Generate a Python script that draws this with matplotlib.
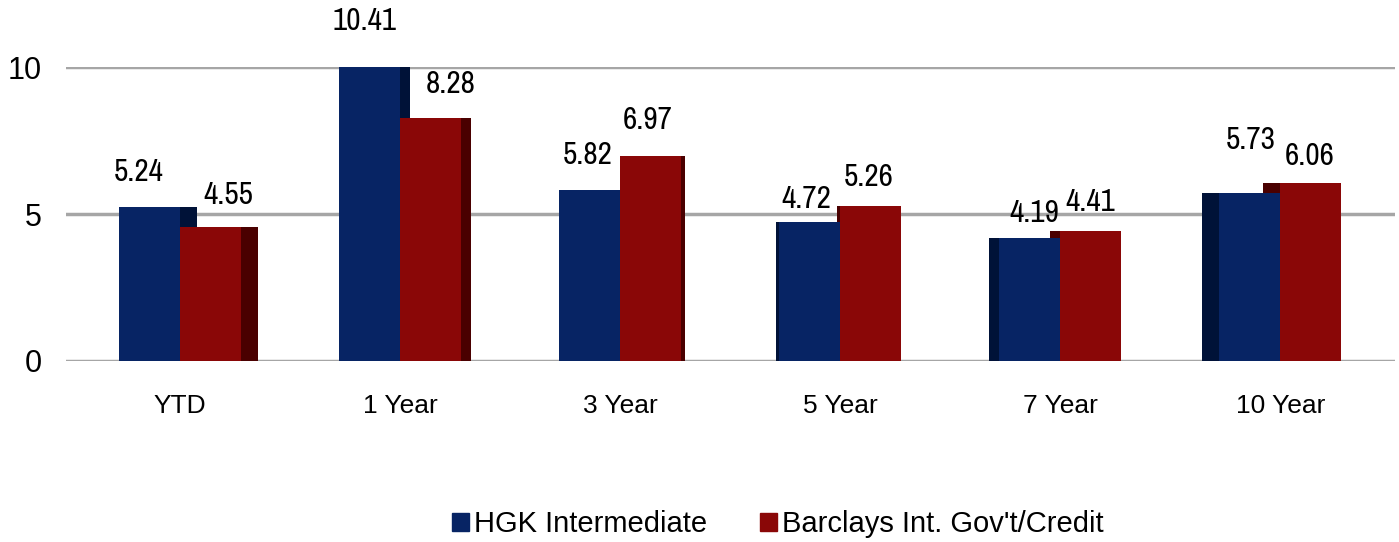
import matplotlib.pyplot as plt
import matplotlib.patches as mpatches
import numpy as np

categories = ['YTD', '1 Year', '3 Year', '5 Year', '7 Year', '10 Year']
hgk = [5.24, 10.41, 5.82, 4.72, 4.19, 5.73]
barclays = [4.55, 8.28, 6.97, 5.26, 4.41, 6.06]
series_names = ['HGK Intermediate', "Barclays Int. Gov't/Credit"]

# label nudges in pixels (dx, dy above bar top), hand tuned to the picture
hgk_off = [(-11, 35), (-5, 34), (-2, 35), (-4, 23), (4, 25), (1, 53)]
bar_off = [(18, 32), (20, 34), (-3, 36), (-2, 29), (-1, 29), (-1, 27)]

blue = '#072464'
blue_side = '#001238'
red = '#8a0707'
red_side = '#4a0000'
narrow = ['Archivo Narrow', 'DejaVu Sans']

plt.rcParams['font.family'] = ['Liberation Sans', 'DejaVu Sans']

fig = plt.figure(figsize=(13.99, 5.42), dpi=100)
ax = fig.add_axes([0.047, 0.334, 0.95, 0.542])

x = np.arange(len(categories))
w = 0.277
# fake 3D side faces: to the right for left groups, to the left for right groups
side = 0.077 * (2.5 - x) / 2.5

for i in x:
    s = side[i]
    if s > 0:
        ax.bar(i + s / 2, min(hgk[i], 10), width=s, color=blue_side, zorder=2)
        ax.bar(i + w + s / 2, barclays[i], width=s, color=red_side, zorder=2)
    else:
        ax.bar(i - w + s / 2, min(hgk[i], 10), width=-s, color=blue_side, zorder=2)
        ax.bar(i + s / 2, barclays[i], width=-s, color=red_side, zorder=2)

ax.bar(x - w / 2, hgk, width=w, color=blue, zorder=3)
ax.bar(x + w / 2, barclays, width=w, color=red, zorder=3)

for i in x:
    ax.annotate('%.2f' % hgk[i], (i - w / 2, hgk[i]), xytext=hgk_off[i],
                textcoords='offset pixels', ha='center', va='center',
                fontsize=22.5, family=narrow, annotation_clip=False)
    ax.annotate('%.2f' % barclays[i], (i + w / 2, barclays[i]), xytext=bar_off[i],
                textcoords='offset pixels', ha='center', va='center',
                fontsize=22.5, family=narrow, annotation_clip=False)

ax.set_xlim(-0.52, 5.52)
ax.set_ylim(0, 10)
ax.set_yticks([0, 5, 10])
ax.yaxis.grid(True, color='#a6a6a6', linewidth=2.5, zorder=1)
ax.set_axisbelow(True)
for sp in ax.spines.values():
    sp.set_visible(False)
ax.tick_params(length=0)
ax.tick_params(axis='y', pad=17, labelsize=22)
ax.tick_params(axis='x', pad=24, labelsize=19)
ax.set_xticks(x)
ax.set_xticklabels(categories)

handles = [mpatches.Patch(color=blue, label=series_names[0]),
           mpatches.Patch(color=red, label=series_names[1])]
fig.legend(handles=handles, loc='center', bbox_to_anchor=(0.556, 0.033), ncol=2,
           frameon=False, prop={'size': 21},
           handlelength=0.58, handleheight=0.58, handletextpad=0.17, columnspacing=1.8)

fig.savefig('out.png', dpi=100)
